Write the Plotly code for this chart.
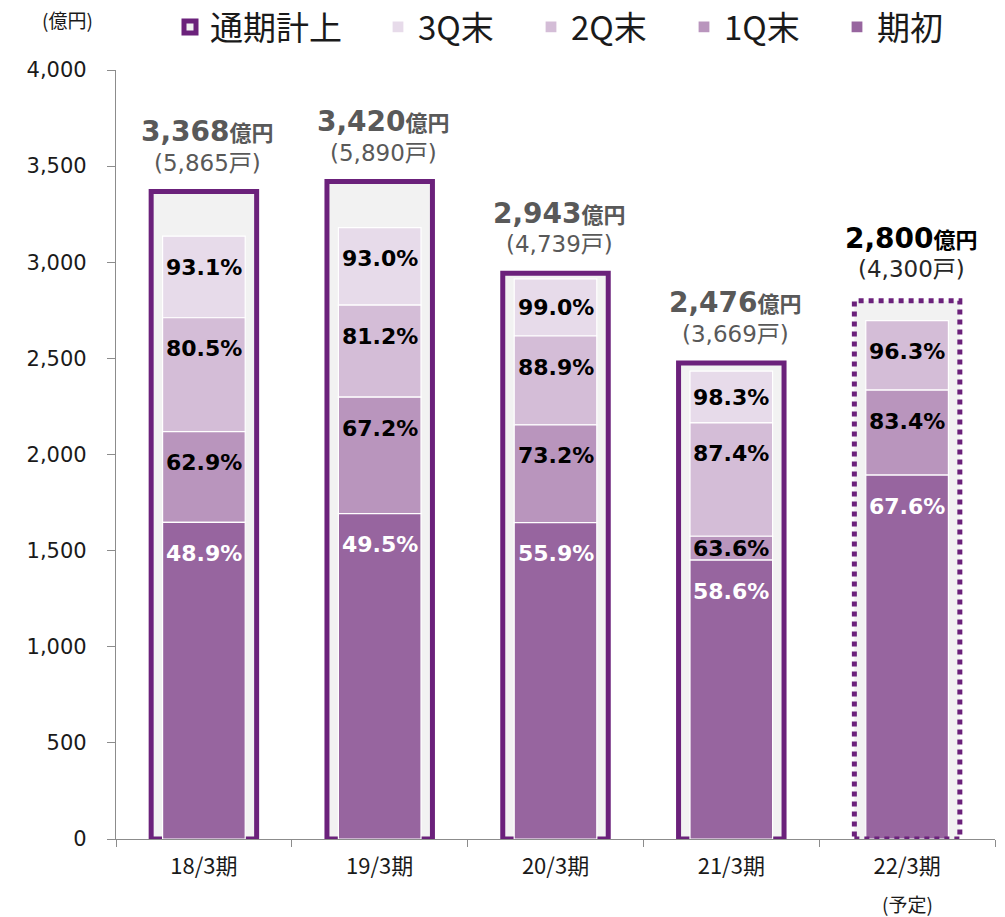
import plotly.graph_objects as go

# ---- data ----
categories = ["18/3期", "19/3期", "20/3期", "21/3期", "22/3期"]
totals = [3368, 3420, 2943, 2476, 2800]          # 通期計上 (億円)
units = [5865, 5890, 4739, 3669, 4300]           # 戸数
pct_start = [48.9, 49.5, 55.9, 58.6, 67.6]       # 期初 (cumulative %)
pct_1q = [62.9, 67.2, 73.2, 63.6, 83.4]          # 1Q末
pct_2q = [80.5, 81.2, 88.9, 87.4, 96.3]          # 2Q末
pct_3q = [93.1, 93.0, 99.0, 98.3, None]          # 3Q末
plan_flags = [False, False, False, False, True]  # 予定

# ---- styles ----
C_OUT = "#6b217b"
C_FILL = "#f2f2f2"
C_START = "#97659f"
C_1Q = "#b995bd"
C_2Q = "#d4bdd7"
C_3Q = "#e7dbea"
TXT_GREY = "#595959"
NUM_FONT = "DejaVu Sans, Noto Sans CJK JP"
CJK_FONT = "Noto Sans CJK JP, DejaVu Sans"

W, H = 1005, 917
ML, MR, MT, MB = 116, 10, 70, 78
Y_MAX = 4000
PLOT_H = H - MT - MB
PX_PER_UNIT = PLOT_H / Y_MAX

fig = go.Figure()

# 通期計上 outline bars
fig.add_trace(go.Bar(
    x=categories, y=totals, name="通期計上", width=0.6,
    marker=dict(color=C_FILL,
                line=dict(color=C_OUT, width=[0 if p else 5 for p in plan_flags])),
    hoverinfo="skip", legend="legend",
))

series = [
    ("3Q末", pct_2q, pct_3q, C_3Q),
    ("2Q末", pct_1q, pct_2q, C_2Q),
    ("1Q末", pct_start, pct_1q, C_1Q),
    ("期初", [0] * len(categories), pct_start, C_START),
]
for name, lo, hi, col in series:
    bases, heights = [], []
    for t, a, b in zip(totals, lo, hi):
        if b is None:
            bases.append(None)
            heights.append(None)
        else:
            bases.append(t * a / 100)
            heights.append(t * (b - a) / 100)
    fig.add_trace(go.Bar(
        x=categories, y=heights, base=bases, name=name, width=0.47,
        marker=dict(color=col, line=dict(color="white", width=1.2)),
        hoverinfo="skip", legend="legend2",
    ))

annotations = []
# percentage labels
for name, lo, hi, col in series:
    for i, (t, a, b) in enumerate(zip(totals, lo, hi)):
        if b is None:
            continue
        seg_px = t * (b - a) / 100 * PX_PER_UNIT
        shift = -min(31, seg_px / 2)
        annotations.append(dict(
            x=categories[i], y=t * b / 100, xref="x", yref="y",
            text=f"<b>{b:.1f}%</b>", showarrow=False, yanchor="middle",
            yshift=shift,
            font=dict(family=NUM_FONT, size=22,
                      color="white" if name == "期初" else "black"),
        ))

# total labels
for i, (c, t, u, p) in enumerate(zip(categories, totals, units, plan_flags)):
    col = "black" if p else TXT_GREY
    annotations.append(dict(
        x=c, y=t, xref="x", yref="y", showarrow=False, yanchor="middle",
        yshift=62 if p else 60, xshift=4,
        text=f"<b>{t:,}</b><b><span style='font-size:22px;font-family:Noto Sans CJK JP'>億円</span></b>",
        font=dict(family=NUM_FONT, size=28, color=col),
    ))
    annotations.append(dict(
        x=c, y=t, xref="x", yref="y", showarrow=False, yanchor="middle",
        yshift=32 if p else 29, xshift=4,
        text=f"({u:,}戸)",
        font=dict(family=NUM_FONT, size=23, color="#262626" if p else TXT_GREY),
    ))
    if p:
        annotations.append(dict(
            x=c, y=0, xref="x", yref="paper", showarrow=False, yanchor="middle",
            yshift=-64, text="(予定)",
            font=dict(family=CJK_FONT, size=19, color="#1a1a1a"),
        ))

annotations.append(dict(
    x=(67 - ML) / (W - ML - MR), y=(H - MB - 20) / PLOT_H,
    xref="paper", yref="paper", showarrow=False, xanchor="center", yanchor="middle",
    text="(億円)", font=dict(family=CJK_FONT, size=19, color="#1a1a1a"),
))

# dotted outline for planned bars
shapes = []
for i, (t, p) in enumerate(zip(totals, plan_flags)):
    if p:
        shapes.append(dict(
            type="rect", xref="x", yref="y", x0=i - 0.3, x1=i + 0.3, y0=0, y1=t,
            line=dict(color=C_OUT, width=5, dash="dot"), layer="above",
        ))

legend_common = dict(orientation="h", xref="container", yref="container",
                     y=1 - 27 / H, xanchor="left", yanchor="middle",
                     font=dict(family=CJK_FONT, size=33, color="#1a1a1a"),
                     traceorder="normal", itemwidth=30, bgcolor="rgba(0,0,0,0)")

fig.update_layout(
    width=W, height=H,
    margin=dict(l=ML, r=MR, t=MT, b=MB, autoexpand=False),
    paper_bgcolor="white", plot_bgcolor="white",
    barmode="overlay",
    showlegend=True,
    legend=dict(x=170 / W, **legend_common),
    legend2=dict(x=378 / W, entrywidth=108, entrywidthmode="pixels", **legend_common),
    annotations=annotations,
    shapes=shapes,
    xaxis=dict(type="category", showline=True, linecolor="#8c8c8c", linewidth=1.2,
               ticks="outside", tickson="boundaries", ticklen=7, tickcolor="#8c8c8c",
               ticklabelstandoff=7, automargin=False,
               tickfont=dict(family=CJK_FONT, size=22, color="#1a1a1a"),
               showgrid=False, zeroline=False),
    yaxis=dict(range=[0, Y_MAX], tickvals=list(range(0, 4001, 500)), tickformat=",",
               showline=True, linecolor="#8c8c8c", linewidth=1.2, automargin=False,
               ticks="outside", ticklen=8, tickcolor="#8c8c8c", ticklabelstandoff=16,
               tickfont=dict(family=NUM_FONT, size=21, color="#1a1a1a"),
               showgrid=False, zeroline=False),
)

fig.write_html("out.html", config={"displayModeBar": False},
               post_script="document.body.style.margin='0px';document.body.style.padding='0px';")
